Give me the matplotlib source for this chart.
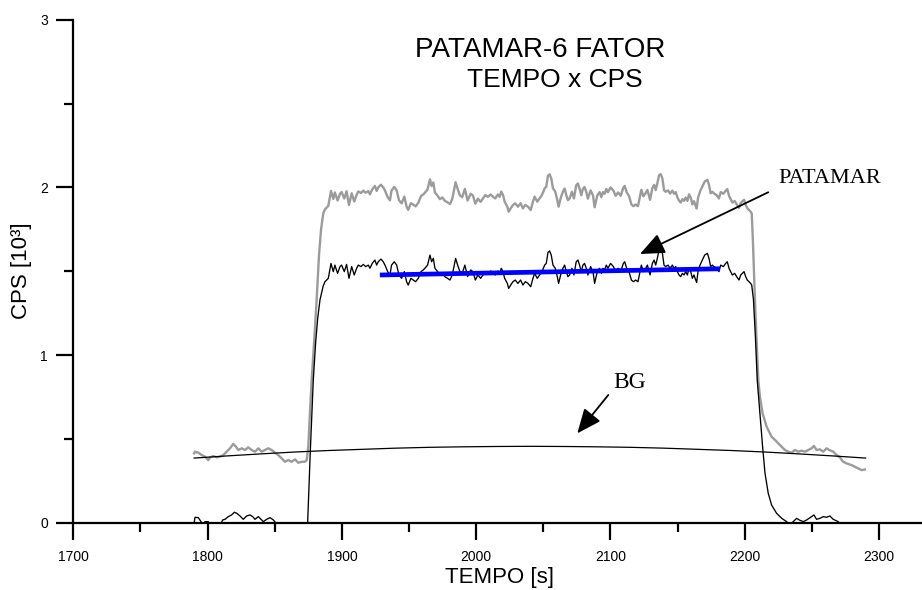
import matplotlib
matplotlib.use("Agg")
import matplotlib.pyplot as plt
from matplotlib.ticker import MultipleLocator

plt.rcParams['font.family'] = ['Liberation Sans', 'DejaVu Sans']

# ---- total counts (gray) ----
total_t = [
    1790.0, 1790.6, 1793.1, 1795.6, 1798.1, 1800.5, 1801.8, 1804.2, 1806.8, 1809.2,
    1811.7, 1814.2, 1816.7, 1819.1, 1821.1, 1822.9, 1825.4, 1827.9, 1830.3, 1832.8,
    1835.3, 1837.8, 1840.3, 1842.7, 1845.2, 1847.7, 1850.2, 1852.6, 1855.2, 1857.6,
    1860.1, 1862.6, 1865.1, 1867.5, 1870.1, 1872.5, 1873.8, 1875.0, 1876.2, 1877.5,
    1879.5, 1881.2, 1883.0, 1884.5, 1886.2,
    1887.4, 1889.9, 1891.9, 1893.6, 1894.8, 1896.8, 1898.6, 1899.8, 1901.8, 1903.5,
    1905.3, 1907.3, 1909.2, 1911.0, 1912.2, 1914.2, 1916.0, 1917.7, 1919.7, 1920.9,
    1922.6, 1924.6, 1925.9, 1927.1, 1929.1, 1930.8, 1932.1, 1934.1, 1935.8, 1937.0,
    1939.0, 1940.8, 1942.5, 1944.5, 1946.5, 1948.2, 1949.4, 1951.4, 1953.2, 1954.9,
    1956.9, 1958.9, 1960.6, 1961.8, 1963.8, 1965.6, 1966.8, 1968.1, 1969.3, 1971.3,
    1973.0, 1974.8, 1976.7, 1978.7, 1980.5, 1982.2, 1983.7, 1984.7, 1986.2, 1987.9,
    1989.6, 1991.6, 1993.6,
    1995.9, 1997.6, 1999.4, 2001.3, 2003.3, 2005.1, 2006.8, 2008.8, 2010.8, 2012.5,
    2014.2, 2016.2, 2017.5, 2018.7, 2020.0, 2021.2, 2023.2, 2024.2, 2025.7, 2027.4,
    2029.1, 2031.1, 2033.1, 2034.8, 2036.6, 2038.6, 2040.6, 2042.3, 2043.5, 2045.5,
    2047.3, 2049.0, 2051.0, 2052.2, 2053.5, 2054.7, 2055.9, 2057.2, 2058.9, 2060.4,
    2061.4, 2062.9, 2064.6, 2065.9, 2067.1, 2068.3, 2069.6, 2071.3, 2072.8, 2074.5,
    2075.8, 2077.0, 2078.3, 2079.5, 2080.7, 2082.0, 2083.2, 2085.2, 2087.0, 2088.2,
    2090.2, 2091.9, 2093.2, 2094.4, 2095.6, 2096.9, 2098.1, 2100.1,
    2102.2, 2103.9, 2105.7, 2107.6, 2109.6, 2110.6, 2112.1, 2113.8, 2115.6, 2117.1,
    2118.8, 2120.5, 2122.0, 2123.0, 2124.5, 2126.3, 2127.5, 2129.5, 2131.2, 2132.5,
    2133.7, 2134.9, 2136.2, 2137.4, 2138.7, 2139.9, 2141.1, 2142.9, 2144.4, 2146.1,
    2147.3, 2148.6, 2149.8, 2151.1, 2152.3, 2153.6, 2154.8, 2156.0, 2157.3, 2158.5,
    2159.8, 2161.0, 2162.2, 2163.5, 2164.2, 2165.2, 2166.7, 2168.4, 2170.2, 2172.2,
    2173.4, 2174.6, 2175.9, 2177.1, 2179.1, 2180.8, 2182.1, 2184.1, 2185.8, 2187.0,
    2188.3, 2189.5, 2190.8, 2192.5, 2194.0, 2195.7, 2197.0, 2198.2, 2199.5, 2200.7,
    2201.9, 2203.2, 2204.4, 2205.2,
    2206.0, 2207.6, 2209.0, 2210.1, 2211.3, 2213.3, 2216.3, 2220.0, 2222.5, 2225.0,
    2227.5, 2229.9, 2232.4, 2234.9, 2237.4, 2239.8, 2242.4, 2244.8, 2247.3, 2249.8,
    2251.5, 2253.5, 2256.0, 2258.5, 2261.0, 2262.9, 2265.9, 2268.4, 2270.9, 2273.3,
    2275.9, 2279.6, 2282.1, 2284.5, 2287.1, 2289.5,
]
total_cps = [
    0.415, 0.425, 0.419, 0.405, 0.395, 0.375, 0.391, 0.399, 0.391, 0.395,
    0.405, 0.425, 0.445, 0.471, 0.455, 0.435, 0.445, 0.435, 0.451, 0.435,
    0.425, 0.445, 0.425, 0.435, 0.445, 0.435, 0.419, 0.405, 0.385, 0.365,
    0.375, 0.365, 0.379, 0.359, 0.365, 0.365, 0.375, 0.455, 0.653, 0.852,
    1.100, 1.330, 1.600, 1.750, 1.847,
    1.869, 1.890, 1.979, 1.931, 1.970, 1.922, 1.962, 1.972, 1.934, 1.977,
    1.895, 1.965, 1.916, 1.956, 1.976, 1.967, 1.981, 1.968, 1.978, 1.959,
    1.988, 2.009, 1.979, 2.000, 2.016, 2.000, 1.981, 1.942, 1.923, 1.982,
    2.003, 1.983, 1.924, 1.905, 1.945, 1.886, 1.866, 1.906, 1.897, 1.887,
    1.908, 1.948, 1.958, 1.968, 1.988, 2.048, 2.008, 2.029, 1.970, 1.950,
    1.930, 1.940, 1.920, 1.911, 1.901, 1.931, 1.990, 2.031, 1.991, 1.952,
    1.942, 1.991, 1.922,
    1.962, 1.952, 1.903, 1.933, 1.914, 1.934, 1.954, 1.944, 1.958, 1.944,
    1.934, 1.958, 1.944, 1.975, 1.955, 1.915, 1.885, 1.855, 1.875, 1.895,
    1.905, 1.885, 1.905, 1.875, 1.895, 1.885, 1.865, 1.915, 1.945, 1.915,
    1.935, 1.955, 1.994, 2.004, 2.070, 2.078, 2.054, 1.994, 1.975, 1.925,
    1.885, 1.935, 1.975, 1.993, 1.954, 1.924, 1.934, 1.974, 1.934, 2.013,
    2.023, 1.992, 1.953, 1.992, 2.002, 1.973, 1.933, 1.982, 1.952, 1.882,
    1.952, 1.972, 1.942, 1.972, 1.962, 1.991, 1.971, 2.000,
    1.980, 1.950, 1.970, 1.950, 1.999, 2.009, 1.970, 1.949, 1.899, 1.888,
    1.898, 1.888, 1.948, 1.986, 1.947, 1.967, 1.985, 1.926, 1.995, 2.015,
    1.984, 2.024, 2.073, 2.079, 2.053, 1.983, 1.974, 1.982, 1.963, 1.981,
    1.962, 1.972, 1.941, 1.921, 1.910, 1.930, 1.920, 1.940, 1.920, 1.959,
    1.939, 1.899, 1.918, 1.888, 1.874, 1.937, 1.976, 2.005, 2.035, 2.045,
    2.015, 1.965, 1.974, 1.964, 1.954, 1.934, 1.972, 1.962, 1.980, 1.990,
    1.950, 1.930, 1.910, 1.919, 1.899, 1.878, 1.907, 1.917, 1.926, 1.896,
    1.876, 1.865, 1.855, 1.845,
    1.700, 1.330, 1.050, 0.852, 0.753, 0.653, 0.574, 0.514, 0.495, 0.475,
    0.455, 0.435, 0.425, 0.419, 0.435, 0.425, 0.431, 0.425, 0.435, 0.445,
    0.459, 0.435, 0.439, 0.425, 0.445, 0.435, 0.425, 0.405, 0.391, 0.365,
    0.355, 0.345, 0.335, 0.325, 0.315, 0.319,
]

# ---- net counts, background subtracted (black) ----
net_t = [
    1790.0, 1790.6, 1793.1, 1794.3, 1795.6, 1797.0, 1798.0, 1800.5, 1802.0, 1806.0,
    1810.0, 1811.2, 1813.0, 1815.4, 1817.9, 1819.9, 1821.7, 1824.1, 1826.6, 1829.1,
    1831.6, 1833.6, 1835.3, 1837.8, 1840.3, 1841.5, 1844.0, 1846.5, 1849.0, 1850.7,
    1853.0, 1858.0, 1863.0, 1868.0, 1872.0, 1874.5, 1876.5, 1878.7, 1880.5, 1882.0,
    1883.7, 1886.0,
    1887.4, 1889.9, 1891.9, 1893.6, 1894.8, 1896.8, 1898.6, 1899.8, 1901.8, 1903.5,
    1905.3, 1907.3, 1909.2, 1911.0, 1912.2, 1914.2, 1916.0, 1917.7, 1919.7, 1920.9,
    1922.6, 1924.6, 1925.9, 1927.1, 1929.1, 1930.8, 1932.1, 1934.1, 1935.8, 1937.0,
    1939.0, 1940.8, 1942.5, 1944.5, 1946.5, 1948.2, 1949.4, 1951.4, 1953.2, 1954.9,
    1956.9, 1958.9, 1960.6, 1961.8, 1963.8, 1965.6, 1966.8, 1968.1, 1969.3, 1971.3,
    1973.0, 1974.8, 1976.7, 1978.7, 1980.5, 1982.2, 1983.7, 1984.7, 1986.2, 1987.9,
    1989.6, 1991.6, 1993.6,
    1995.9, 1997.6, 1999.4, 2001.3, 2003.3, 2005.1, 2006.8, 2008.8, 2010.8, 2012.5,
    2014.2, 2016.2, 2017.5, 2018.7, 2020.0, 2021.2, 2023.2, 2024.2, 2025.7, 2027.4,
    2029.1, 2031.1, 2033.1, 2034.8, 2036.6, 2038.6, 2040.6, 2042.3, 2043.5, 2045.5,
    2047.3, 2049.0, 2051.0, 2052.2, 2053.5, 2054.7, 2055.9, 2057.2, 2058.9, 2060.4,
    2061.4, 2062.9, 2064.6, 2065.9, 2067.1, 2068.3, 2069.6, 2071.3, 2072.8, 2074.5,
    2075.8, 2077.0, 2078.3, 2079.5, 2080.7, 2082.0, 2083.2, 2085.2, 2087.0, 2088.2,
    2090.2, 2091.9, 2093.2, 2094.4, 2095.6, 2096.9, 2098.1, 2100.1,
    2102.2, 2103.9, 2105.7, 2107.6, 2109.6, 2110.6, 2112.1, 2113.8, 2115.6, 2117.1,
    2118.8, 2120.5, 2122.0, 2123.0, 2124.5, 2126.3, 2127.5, 2129.5, 2131.2, 2132.5,
    2133.7, 2134.9, 2136.2, 2137.4, 2138.7, 2139.9, 2141.1, 2142.9, 2144.4, 2146.1,
    2147.3, 2148.6, 2149.8, 2151.1, 2152.3, 2153.6, 2154.8, 2156.0, 2157.3, 2158.5,
    2159.8, 2161.0, 2162.2, 2163.5, 2164.2, 2165.2, 2166.7, 2168.4, 2170.2, 2172.2,
    2173.4, 2174.6, 2175.9, 2177.1, 2179.1, 2180.8, 2182.1, 2184.1, 2185.8, 2187.0,
    2188.3, 2189.5, 2190.8, 2192.5, 2194.0, 2195.7, 2197.0, 2198.2, 2199.5, 2200.7,
    2201.9, 2203.2, 2204.4, 2205.2,
    2206.5, 2208.0, 2209.3, 2211.3, 2213.3, 2215.1, 2217.5, 2220.0, 2223.7, 2227.5,
    2231.2, 2233.5, 2236.1, 2238.7, 2240.6, 2243.6, 2246.1, 2249.8, 2251.5, 2253.5,
    2256.0, 2258.5, 2261.0, 2263.4, 2265.9, 2269.6, 2270.5,
]
net_cps = [
    0.000, 0.034, 0.032, 0.018, 0.002, -0.010, 0.008, 0.008, -0.010, -0.020,
    -0.005, 0.018, 0.022, 0.038, 0.048, 0.064, 0.058, 0.042, 0.022, 0.042,
    0.048, 0.038, 0.022, 0.038, 0.018, 0.008, 0.022, 0.032, 0.018, 0.002,
    -0.020, -0.060, -0.050, -0.060, -0.050, 0.000, 0.430, 0.850, 1.080, 1.220,
    1.330, 1.410,
    1.438, 1.458, 1.547, 1.498, 1.537, 1.488, 1.528, 1.537, 1.498, 1.541,
    1.458, 1.528, 1.478, 1.518, 1.537, 1.528, 1.541, 1.528, 1.537, 1.518,
    1.547, 1.567, 1.537, 1.557, 1.573, 1.557, 1.537, 1.498, 1.478, 1.537,
    1.557, 1.537, 1.478, 1.458, 1.498, 1.438, 1.418, 1.458, 1.448, 1.438,
    1.458, 1.498, 1.508, 1.518, 1.537, 1.597, 1.557, 1.577, 1.518, 1.498,
    1.478, 1.488, 1.468, 1.458, 1.448, 1.478, 1.537, 1.577, 1.537, 1.498,
    1.488, 1.537, 1.468,
    1.508, 1.498, 1.448, 1.478, 1.458, 1.478, 1.498, 1.488, 1.502, 1.488,
    1.478, 1.502, 1.488, 1.518, 1.498, 1.458, 1.428, 1.398, 1.418, 1.438,
    1.448, 1.428, 1.448, 1.418, 1.438, 1.428, 1.408, 1.458, 1.488, 1.458,
    1.478, 1.498, 1.537, 1.547, 1.613, 1.621, 1.597, 1.537, 1.518, 1.468,
    1.428, 1.478, 1.518, 1.537, 1.498, 1.468, 1.478, 1.518, 1.478, 1.557,
    1.567, 1.537, 1.498, 1.537, 1.547, 1.518, 1.478, 1.528, 1.498, 1.428,
    1.498, 1.518, 1.488, 1.518, 1.508, 1.537, 1.518, 1.547,
    1.528, 1.498, 1.518, 1.498, 1.547, 1.557, 1.518, 1.498, 1.448, 1.438,
    1.448, 1.438, 1.498, 1.537, 1.498, 1.518, 1.537, 1.478, 1.547, 1.567,
    1.537, 1.577, 1.627, 1.633, 1.607, 1.537, 1.528, 1.537, 1.518, 1.537,
    1.518, 1.528, 1.498, 1.478, 1.468, 1.488, 1.478, 1.498, 1.478, 1.518,
    1.498, 1.458, 1.478, 1.448, 1.434, 1.498, 1.537, 1.567, 1.597, 1.607,
    1.577, 1.528, 1.537, 1.528, 1.518, 1.498, 1.537, 1.528, 1.547, 1.557,
    1.518, 1.498, 1.478, 1.488, 1.468, 1.448, 1.478, 1.488, 1.498, 1.468,
    1.448, 1.438, 1.428, 1.418,
    1.330, 1.100, 0.852, 0.654, 0.455, 0.296, 0.177, 0.107, 0.058, 0.028,
    0.008, -0.010, 0.008, 0.028, 0.018, 0.008, 0.018, 0.038, 0.048, 0.022,
    0.028, 0.038, 0.034, 0.042, 0.022, 0.008, 0.000,
]

# ---- background curve ----
bg_t = [1790, 1815, 1840, 1865, 1890, 1915, 1940, 1965, 1990, 2015, 2040,
        2065, 2090, 2115, 2140, 2165, 2190, 2215, 2240, 2265, 2290]
bg_cps = [0.387, 0.400, 0.412, 0.423, 0.432, 0.439, 0.446, 0.451, 0.454, 0.456, 0.457,
          0.456, 0.454, 0.451, 0.446, 0.439, 0.432, 0.423, 0.412, 0.400, 0.387]

# ---- plateau linear fit ----
fit_t = [1928.3, 2181.6]
fit_cps = [1.478, 1.515]

x_ticks = [1700, 1800, 1900, 2000, 2100, 2200, 2300]
y_ticks = [0, 1, 2, 3]

W, H = 922, 590
fig = plt.figure(figsize=(W / 100, H / 100), dpi=100)
ax = fig.add_axes([73.3 / W, 67 / H, (W - 73.3) / W, (523 - 19.6) / H])
ax.set_xlim(1700, 2332)
ax.set_ylim(0, 3)

ax.plot(total_t, total_cps, color='#9b9b9b', lw=1.7, zorder=2)
ax.plot(bg_t, bg_cps, color='black', lw=0.9, zorder=3)
ax.plot(net_t, net_cps, color='black', lw=0.95, zorder=4)
ax.plot(fit_t, fit_cps, color='#0000ff', lw=3.4, solid_capstyle='butt', zorder=5)

for side in ('top', 'right'):
    ax.spines[side].set_visible(False)
for side in ('left', 'bottom'):
    ax.spines[side].set_linewidth(1.6)
    ax.spines[side].set_zorder(6)

ax.set_xticks(x_ticks)
ax.set_yticks(y_ticks)
ax.xaxis.set_minor_locator(MultipleLocator(50))
ax.yaxis.set_minor_locator(MultipleLocator(0.5))
ax.tick_params(which='major', direction='out', length=12.2, width=1.6, labelsize=10)
ax.tick_params(which='minor', direction='out', length=6.5, width=1.6)
ax.tick_params(axis='x', which='major', pad=7.5)
ax.tick_params(axis='y', which='major', pad=6)

# axis titles and chart title
fig.text(499 / W, 1 - 583.3 / H, 'TEMPO [s]', ha='center', va='baseline', fontsize=16)
fig.text(22 / W, 1 - 271 / H, 'CPS [10³]', rotation=90, ha='center', va='center', fontsize=16)
fig.text(540.5 / W, 1 - 56.7 / H, 'PATAMAR-6 FATOR', ha='center', va='baseline', fontsize=20)
fig.text(555 / W, 1 - 86.7 / H, 'TEMPO x CPS', ha='center', va='baseline', fontsize=19)

# annotations
arrow = dict(arrowstyle='-|>,head_length=0.75,head_width=0.32', color='black',
             lw=1.3, shrinkA=0, shrinkB=0, mutation_scale=20)
ax.annotate('', xy=(2122.0, 1.603), xytext=(2217.5, 1.971), arrowprops=arrow, zorder=7)
ax.text(2224.7, 2.026, 'PATAMAR', family=['Liberation Serif', 'DejaVu Serif'],
        fontsize=16, ha='left', va='baseline')
ax.annotate('', xy=(2075.3, 0.534), xytext=(2098.4, 0.763), arrowprops=arrow, zorder=7)
ax.text(2101.9, 0.802, 'BG', family=['Liberation Serif', 'DejaVu Serif'],
        fontsize=17, ha='left', va='baseline')

fig.savefig('out.png', dpi=100)
